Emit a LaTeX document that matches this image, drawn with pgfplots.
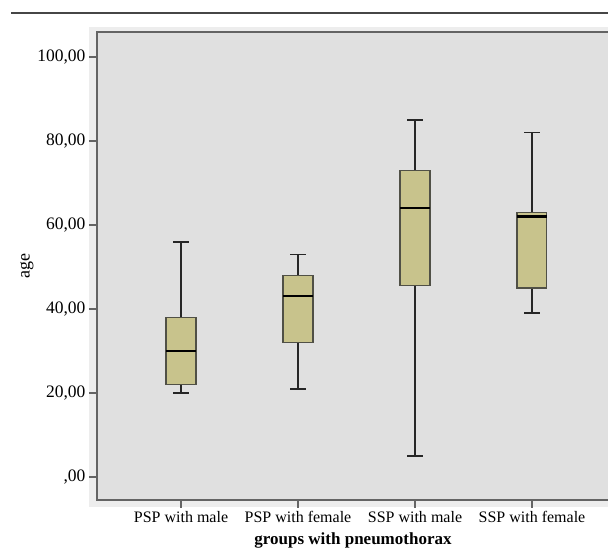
\documentclass[border=0pt]{standalone}
\usepackage{pgfplots}
\pgfplotsset{compat=1.18}
\usepgfplotslibrary{statistics}
\usepackage{fontspec}
\setmainfont{Liberation Serif}
\definecolor{boxfill}{RGB}{200,195,140}
\definecolor{boxdraw}{RGB}{80,80,70}
\definecolor{plotbg}{RGB}{224,224,224}
\definecolor{marginfill}{RGB}{237,237,237}
\definecolor{framec}{RGB}{100,100,100}
\definecolor{rulec}{RGB}{70,70,70}
\begin{document}
\begin{tikzpicture}[x=1bp,y=1bp]
\path[use as bounding box] (0,0) rectangle (608,549);
\fill[marginfill] (89,42) rectangle (608,522);
\draw[color=rulec, line width=1.5bp] (11,536) -- (608,536);
\begin{axis}[
  at={(97bp,49bp)}, anchor=south west, scale only axis,
  width=511bp, height=468bp,
  xmin=0.282, xmax=4.65, ymin=-5.48, ymax=105.95,
  axis background/.style={fill=plotbg},
  axis line style={draw=none},
  xtick={1,2,3,4},
  xticklabels={PSP with male, PSP with female, SSP with male, SSP with female},
  ytick={0,20,40,60,80,100},
  yticklabels={{,00},{20,00},{40,00},{60,00},{80,00},{100,00}},
  xtick pos=bottom, ytick pos=left,
  tick align=outside, major tick length=8bp,
  tick style={color=framec, line width=1.2bp},
  xticklabel style={font=\fontsize{16bp}{19bp}\selectfont},
  yticklabel style={font=\fontsize{17.5bp}{20bp}\selectfont},
  ylabel={age},
  ylabel style={at={(axis description cs:-0.137,0.5)}, anchor=center, font=\fontsize{18bp}{21bp}\selectfont},
  xlabel={\textbf{groups with pneumothorax}},
  xlabel style={at={(axis description cs:0.501,0)}, anchor=base, yshift=-44.5bp, font=\fontsize{17bp}{20bp}\selectfont},
  boxplot/draw direction=y,
  boxplot/every median/.style={draw=black, line width=2.2bp},
  boxplot/every whisker/.style={draw=black!85, line width=1.6bp},
  clip=false,
]
\addplot[boxplot prepared={draw position=1, lower whisker=20, lower quartile=22, median=30, upper quartile=38, upper whisker=56, box extend=0.256, whisker extend=0.13}, draw=boxdraw, fill=boxfill, line width=1.1bp] coordinates {};
\addplot[boxplot prepared={draw position=2, lower whisker=21, lower quartile=32, median=43, upper quartile=48, upper whisker=53, box extend=0.256, whisker extend=0.13}, draw=boxdraw, fill=boxfill, line width=1.1bp] coordinates {};
\addplot[boxplot prepared={draw position=3, lower whisker=5, lower quartile=45.5, median=64, upper quartile=73, upper whisker=85, box extend=0.256, whisker extend=0.13}, draw=boxdraw, fill=boxfill, line width=1.1bp] coordinates {};
\addplot[boxplot prepared={draw position=4, lower whisker=39, lower quartile=45, median=62, upper quartile=63, upper whisker=82, box extend=0.256, whisker extend=0.13}, draw=boxdraw, fill=boxfill, line width=1.1bp] coordinates {};
\draw[color=framec, line width=1.3bp] (rel axis cs:1,0) -- (rel axis cs:0,0) -- (rel axis cs:0,1) -- (rel axis cs:1,1);
\end{axis}
\end{tikzpicture}
\end{document}
